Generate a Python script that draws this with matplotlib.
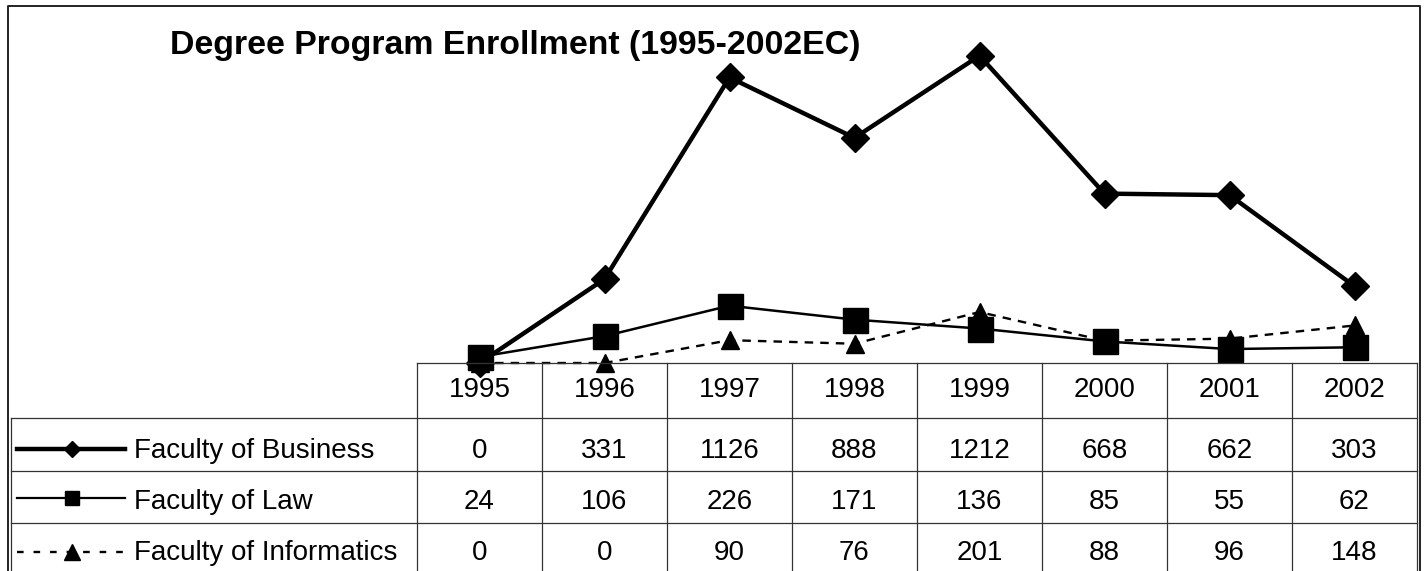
import matplotlib
matplotlib.use("Agg")
import matplotlib.pyplot as plt
from matplotlib.lines import Line2D
from matplotlib import transforms

# ------------ DATA -------------
years = ["1995", "1996", "1997", "1998", "1999", "2000", "2001", "2002"]
business = [0, 331, 1126, 888, 1212, 668, 662, 303]
law = [24, 106, 226, 171, 136, 85, 55, 62]
informatics = [0, 0, 90, 76, 201, 88, 96, 148]
series_names = ["Faculty of Business", "Faculty of Law", "Faculty of Informatics"]
title = "Degree Program Enrollment (1995-2002EC)"
# -------------------------------

W, H = 1428, 571
plt.rcParams["font.family"] = ["Liberation Sans", "DejaVu Sans"]
GRID = "#333333"


def fx(px):
    return px / W


def fy(py):
    return 1 - py / H


fig = plt.figure(figsize=(W / 100, H / 100), dpi=100)

# plot area sits right on top of the data table
ax = fig.add_axes([fx(417), fy(363), fx(1417) - fx(417), fy(8) - fy(363)])
ax.set_xlim(-0.5, len(years) - 0.5)
ax.set_ylim(0, 1400)
ax.axis("off")

x = list(range(len(years)))
styles = [
    dict(lw=3.2, ls="-", marker="D", ms=14, zorder=3),
    dict(lw=1.8, ls="-", marker="s", ms=18, zorder=4),
    dict(lw=1.7, ls=(0, (3.6, 3.0)), marker="^", ms=12.5, zorder=2),
]
key_styles = [
    dict(lw=3.2, ls="-", marker="D", ms=8.5),
    dict(lw=1.6, ls="-", marker="s", ms=9.5),
    dict(lw=1.7, ls=(0, (2.8, 4.2)), marker="^", ms=11),
]
data = [business, law, informatics]

for vals, st in zip(data, styles):
    ax.plot(x, vals, color="black", lw=st["lw"], ls=st["ls"], marker=st["marker"],
            ms=st["ms"], mfc="black", mec="black", zorder=st["zorder"], clip_on=False)

# title
fig.text(fx(170), fy(54), title, fontsize=24.4, fontweight="bold", va="baseline", ha="left")

# outer border (bottom edge falls outside the picture)
fig.add_artist(Line2D([fx(8), fx(8), fx(1419.5), fx(1419.5)], [fy(600), fy(5.5), fy(5.5), fy(600)],
                      color="#222222", lw=1.4))

# ------------ data table -------------
blend = transforms.blended_transform_factory(ax.transData, fig.transFigure)
row_edges = [363, 418, 471, 523, 600]
text_base = [397, 458, 509, 560]
key_y = [449, 498, 552]
fs = 20

# horizontal lines
fig.add_artist(Line2D([-0.5, len(years) - 0.5], [fy(363), fy(363)], transform=blend, color=GRID, lw=0.9))
for yy in row_edges[1:4]:
    fig.add_artist(Line2D([fx(11), fx(1417)], [fy(yy), fy(yy)], color=GRID, lw=0.9))
# vertical lines
fig.add_artist(Line2D([fx(11), fx(11)], [fy(418), fy(600)], color=GRID, lw=0.9))
for i in range(len(years) + 1):
    fig.add_artist(Line2D([i - 0.5, i - 0.5], [fy(363), fy(600)], transform=blend, color=GRID, lw=0.9))

# header
for i, yr in enumerate(years):
    fig.text(i, fy(text_base[0]), yr, transform=blend, ha="center", va="baseline", fontsize=fs)

# rows
for r, (name, vals, ks) in enumerate(zip(series_names, data, key_styles)):
    yb = text_base[r + 1]
    ym = key_y[r]
    fig.add_artist(Line2D([fx(17), fx(125)], [fy(ym), fy(ym)], color="black",
                          lw=ks["lw"], ls=ks["ls"]))
    fig.add_artist(Line2D([fx(72)], [fy(ym)], color="black", ls="none", marker=ks["marker"],
                          ms=ks["ms"], mfc="black", mec="black"))
    fig.text(fx(134), fy(yb), name, ha="left", va="baseline", fontsize=fs)
    for i, v in enumerate(vals):
        fig.text(i, fy(yb), str(v), transform=blend, ha="center", va="baseline", fontsize=fs)

fig.savefig("out.png", dpi=100)
